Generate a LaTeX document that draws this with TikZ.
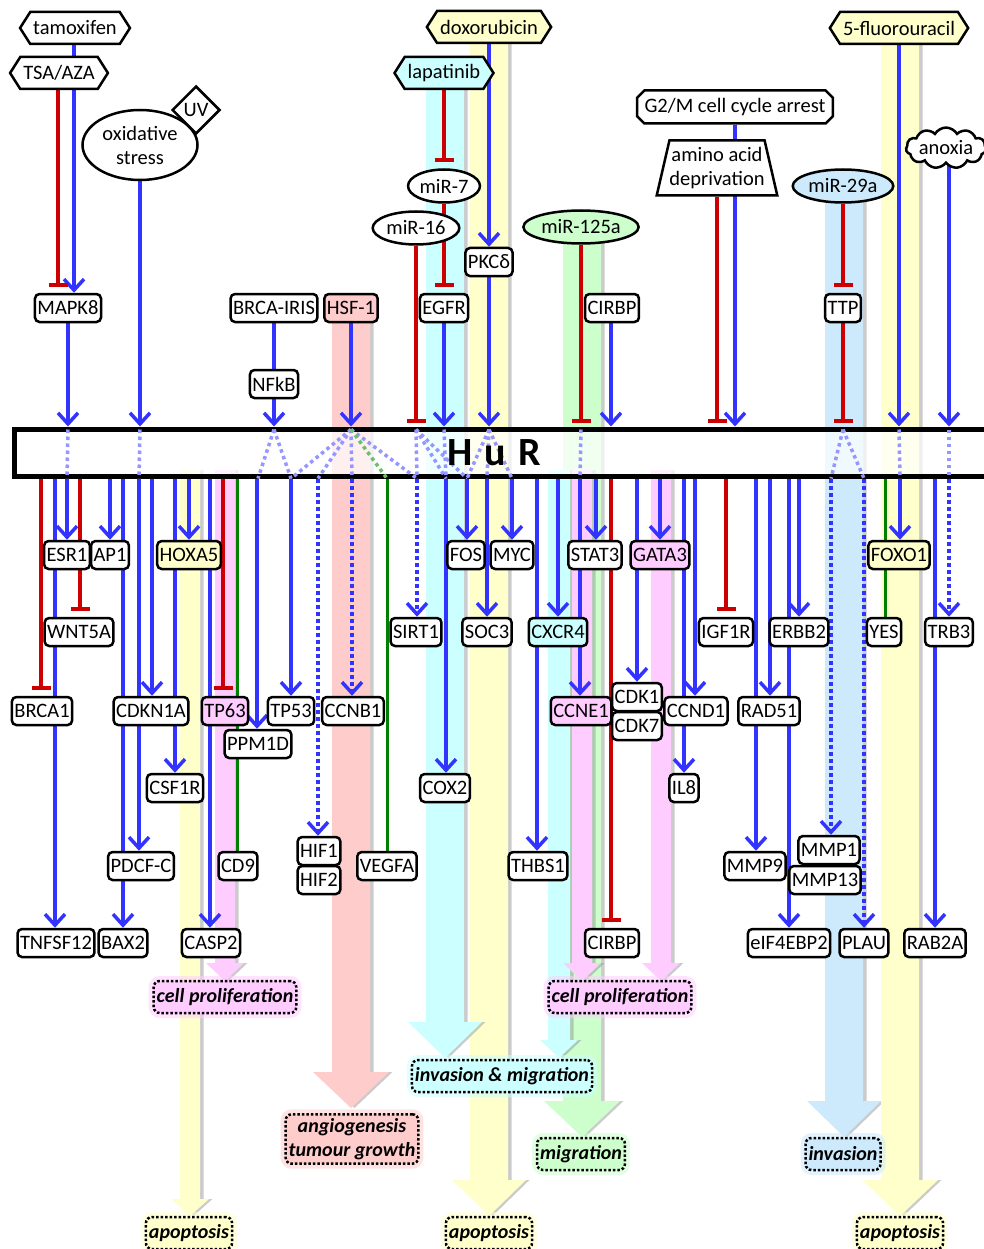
\documentclass[tikz,border=0pt]{standalone}
\usepackage{fontspec}
\setmainfont{Carlito}
\usetikzlibrary{arrows.meta,shapes.geometric,shapes.symbols,shapes.misc}
\definecolor{cblue}{RGB}{51,51,255}
\definecolor{cred}{RGB}{204,0,0}
\definecolor{cgreen}{RGB}{0,128,0}
\definecolor{dotblue}{RGB}{150,150,255}
\definecolor{dotgreen}{RGB}{110,190,110}
\definecolor{fyellow}{RGB}{255,255,204}
\definecolor{fcyan}{RGB}{204,255,255}
\definecolor{fsalmon}{RGB}{255,204,204}
\definecolor{fgreen}{RGB}{204,255,204}
\definecolor{fsky}{RGB}{204,234,252}
\definecolor{fpink}{RGB}{255,204,255}
\pgfdeclarelayer{bands}
\pgfdeclarelayer{bar}
\pgfdeclarelayer{edges}
\pgfsetlayers{bands,bar,edges,main}
\newcommand{\hband}[7]{%
  \pgfmathsetmacro{\bcx}{(#1+#2)/2}%
  \pgfmathsetmacro{\bhl}{\bcx-#6}%
  \pgfmathsetmacro{\bhr}{\bcx+#6}%
  \fill[black!45, opacity=0.45] (#1+3.5,#3) -- (#1+3.5,#4) -- (\bhl+3.5,#4) -- (\bcx+3.5,#5) -- (\bhr+3.5,#4) -- (#2+3.5,#4) -- (#2+3.5,#3) -- cycle;
  \fill[#7] (#1,#3) -- (#1,#4) -- (\bhl,#4) -- (\bcx,#5) -- (\bhr,#4) -- (#2,#4) -- (#2,#3) -- cycle;
}
\tikzset{
  base/.style={font=\fontsize{20.5}{24}\selectfont, line width=2.5pt, draw=black, fill=white},
  gene/.style={base, rectangle, rounded corners=4.5pt, inner xsep=2.5pt, inner ysep=0pt, minimum height=28pt},
  drug/.style={base, signal, signal to=east and west, signal pointer angle=115, inner xsep=3pt, inner ysep=0pt, minimum height=32pt},
  mir/.style={base, ellipse, inner xsep=1pt, inner ysep=0pt, minimum height=33pt},
  act/.style={draw=cblue, line width=3.5pt, -{Straight Barb[length=11pt,width=20pt]}},
  plainact/.style={draw=cblue, line width=3.5pt},
  inh/.style={draw=cred, line width=3.5pt, -{Bar[width=19pt,line width=4pt]}, shorten >=6pt},
  inhh/.style={inh, shorten >=4pt},
  dact/.style={act, dash pattern=on 4pt off 3pt},
  gline/.style={draw=cgreen, line width=3pt},
  hurdot/.style={draw=dotblue, line width=3.5pt, dash pattern=on 3.5pt off 3.5pt},
  hurdotg/.style={draw=dotgreen, line width=3.5pt, dash pattern=on 3.5pt off 3.5pt},
  outc/.style={font=\fontsize{20}{24}\selectfont\bfseries\itshape, rounded corners=6pt, line width=2.5pt, draw=black, dash pattern=on 2.5pt off 2pt, inner xsep=3pt, inner ysep=2pt, minimum height=32pt, fill=#1, preaction={draw=#1, line width=10pt, opacity=0.55, solid}},
}
\begin{document}
\begin{tikzpicture}[x=1pt,y=-1pt]
\useasboundingbox (0,0) rectangle (983,1249);
% ---------- broad pathway bands ----------
\begin{pgfonlayer}{bands}
\hband{470}{508}{30}{1180}{1216}{37}{fyellow}
\hband{426}{464}{75}{1022}{1058}{37}{fcyan}
\hband{332}{370}{310}{1072}{1108}{38}{fsalmon}
\hband{563}{601}{230}{1101}{1137}{38}{fgreen}
\hband{825}{863}{190}{1101}{1137}{37}{fsky}
\hband{881}{919}{30}{1180}{1216}{38}{fyellow}
\hband{180}{200}{470}{1199}{1216}{19}{fyellow}
\hband{215}{235}{470}{963}{981}{19}{fpink}
\hband{548}{570}{470}{1040}{1058}{19}{fcyan}
\hband{572}{592}{470}{963}{981}{19}{fpink}
\hband{651}{671}{470}{963}{981}{19}{fpink}
\end{pgfonlayer}
% ---------- HuR bar ----------
\begin{pgfonlayer}{bar}
\node[draw, line width=5pt, fill=white, fill opacity=0.72, minimum width=995pt, minimum height=47pt, inner sep=0pt] (hur) at (511.5,452.5) {};
\end{pgfonlayer}
% ---------- nodes ----------
\path
  node[gene] (mapk) at (68,308) {MAPK8}
  node[gene] (brca) at (274,308) {BRCA-IRIS}
  node[gene, fill=fsalmon] (hsf) at (351,308) {HSF-1}
  node[gene] (egfr) at (444,308) {EGFR}
  node[gene] (pkc) at (489,262) {PKCδ}
  node[gene] (cirbp) at (612,308) {CIRBP}
  node[gene] (ttp) at (843,308) {TTP}
  node[gene] (nfkb) at (274,384) {NFkB};
\path
  node[gene] (esr1) at (67,555) {ESR1}
  node[gene] (ap1) at (110,555) {AP1}
  node[gene, fill=fyellow] (hoxa5) at (189,555) {HOXA5}
  node[gene] (fos) at (466,555) {FOS}
  node[gene] (myc) at (512,555) {MYC}
  node[gene] (stat3) at (595,555) {STAT3}
  node[gene, fill=fpink] (gata3) at (660,555) {GATA3}
  node[gene, fill=fyellow] (foxo1) at (899,555) {FOXO1}
  node[gene] (wnt5a) at (79,632) {WNT5A}
  node[gene] (sirt1) at (416,632) {SIRT1}
  node[gene] (soc3) at (487,632) {SOC3}
  node[gene, fill=fcyan] (cxcr4) at (558,632) {CXCR4}
  node[gene] (igf1r) at (726,632) {IGF1R}
  node[gene] (erbb2) at (799,632) {ERBB2}
  node[gene] (yes) at (884,632) {YES}
  node[gene] (trb3) at (949,632) {TRB3}
  node[gene] (brca1) at (42,711) {BRCA1}
  node[gene] (cdkn1a) at (151,711) {CDKN1A}
  node[gene, fill=fpink] (tp63) at (225,711) {TP63}
  node[gene] (tp53) at (291,711) {TP53}
  node[gene] (ccnb1) at (353,711) {CCNB1}
  node[gene, fill=fpink] (ccne1) at (581,711) {CCNE1}
  node[gene] (cdk1) at (637,697) {CDK1}
  node[gene] (cdk7) at (637,726) {CDK7}
  node[gene] (ccnd1) at (696,711) {CCND1}
  node[gene] (rad51) at (769,711) {RAD51}
  node[gene] (ppm1d) at (258,744) {PPM1D}
  node[gene] (csf1r) at (175,788) {CSF1R}
  node[gene] (cox2) at (445,788) {COX2}
  node[gene] (il8) at (684,788) {IL8}
  node[gene] (pdcfc) at (141,866) {PDCF-C}
  node[gene] (cd9) at (238,866) {CD9}
  node[gene] (hif1) at (319,851) {HIF1}
  node[gene] (hif2) at (319,880) {HIF2}
  node[gene] (vegfa) at (387,866) {VEGFA}
  node[gene] (thbs1) at (538,866) {THBS1}
  node[gene] (mmp9) at (755,866) {MMP9}
  node[gene] (mmp1) at (829,850) {MMP1}
  node[gene] (mmp13) at (825,880) {MMP13}
  node[gene] (tnf) at (56,943) {TNFSF12}
  node[gene] (bax2) at (123,943) {BAX2}
  node[gene] (casp2) at (211,943) {CASP2}
  node[gene] (cirbpb) at (612,943) {CIRBP}
  node[gene] (eif) at (789,943) {eIF4EBP2}
  node[gene] (plau) at (864,943) {PLAU}
  node[gene] (rab2a) at (935,943) {RAB2A};
\path
  node[drug] (tam) at (75,28) {tamoxifen}
  node[drug] (tsa) at (59,73) {TSA/AZA}
  node[base, ellipse, minimum width=115pt, minimum height=70pt, inner sep=0pt, align=center] (ox) at (140,145) {oxidative\\stress}
  node[base, diamond, minimum width=48pt, minimum height=48pt, inner sep=0pt] (uv) at (196,110) {UV}
  node[drug, fill=fyellow] (dox) at (489,27) {doxorubicin}
  node[drug, fill=fcyan] (lap) at (444,73) {lapatinib}
  node[drug, fill=fyellow] (fu) at (899,28) {5-fluorouracil}
  node[base, chamfered rectangle, chamfered rectangle xsep=4pt, inner ysep=0pt, minimum height=33pt] (g2m) at (735,107) {G2/M cell cycle arrest}
  node[base, trapezium, trapezium left angle=73, trapezium right angle=73, trapezium stretches=true, minimum width=118pt, minimum height=55pt, inner sep=0pt, align=center] (aad) at (717,168) {amino acid\\deprivation}
  node[base, cloud, cloud puffs=11, cloud puff arc=120, aspect=2.6, minimum width=80pt, minimum height=32pt, inner sep=0pt] (anox) at (946,148) {anoxia}
  node[mir, minimum width=71pt] (mir7) at (444,186) {miR-7}
  node[mir, minimum width=85pt] (mir16) at (416,228) {miR-16}
  node[mir, minimum width=114pt, fill=fgreen] (mir125) at (581,227) {miR-125a}
  node[mir, minimum width=98pt, fill=fsky] (mir29) at (843,186) {miR-29a};
% ---------- connectors ----------
\begin{pgfonlayer}{edges}
% dotted links inside the bar
\draw[hurdot] ([yshift=-3pt]hur.north -| 68,0) -- (hur.south -| 67,0);
\draw[hurdot] ([yshift=-3pt]hur.north -| 140,0) -- (hur.south -| 139,0);
\draw[hurdot] ([yshift=-3pt]hur.north -| 274,0) -- (hur.south -| 258,0);
\draw[hurdot] ([yshift=-3pt]hur.north -| 274,0) -- (hur.south -| 291,0);
\draw[hurdot] ([yshift=-3pt]hur.north -| 351,0) -- (hur.south -| 291,0);
\draw[hurdot] ([yshift=-3pt]hur.north -| 351,0) -- (hur.south -| 318,0);
\draw[hurdot] ([yshift=-3pt]hur.north -| 351,0) -- (hur.south -| 352,0);
\draw[hurdot] ([yshift=-3pt]hur.north -| 351,0) -- (hur.south -| 417,0);
\draw[hurdotg] ([yshift=-3pt]hur.north -| 351,0) -- (hur.south -| 387,0);
\draw[hurdot] ([yshift=-3pt]hur.north -| 416,0) -- (hur.south -| 417,0);
\draw[hurdot] ([yshift=-3pt]hur.north -| 416,0) -- (hur.south -| 446,0);
\draw[hurdot] ([yshift=-3pt]hur.north -| 416,0) -- (hur.south -| 467,0);
\draw[hurdot] ([yshift=-3pt]hur.north -| 444,0) -- (hur.south -| 446,0);
\draw[hurdot] ([yshift=-3pt]hur.north -| 489,0) -- (hur.south -| 467,0);
\draw[hurdot] ([yshift=-3pt]hur.north -| 489,0) -- (hur.south -| 487,0);
\draw[hurdot] ([yshift=-3pt]hur.north -| 489,0) -- (hur.south -| 512,0);
\draw[hurdot] ([yshift=-3pt]hur.north -| 581,0) -- (hur.south -| 580,0);
\draw[hurdot] ([yshift=-3pt]hur.north -| 843,0) -- (hur.south -| 831,0);
\draw[hurdot] ([yshift=-3pt]hur.north -| 843,0) -- (hur.south -| 864,0);
\draw[hurdot] ([yshift=-3pt]hur.north -| 899,0) -- (hur.south -| 900,0);
\draw[hurdot] ([yshift=-3pt]hur.north -| 949,0) -- (hur.south -| 949,0);
% above the bar
\draw[act] (tam.south -| 74,0) -- (mapk.north -| 74,0);
\draw[inh] (tsa.south -| 58,0) -- (mapk.north -| 58,0);
\draw[act] (ox.south) -- (hur.north -| ox.south);
\draw[act] (mapk.south) -- (hur.north -| mapk.south);
\draw[plainact] (brca.south) -- (nfkb.north);
\draw[act] (nfkb.south) -- (hur.north -| nfkb.south);
\draw[act] (hsf.south) -- (hur.north -| hsf.south);
\draw[inhh] (mir16.south) -- (hur.north -| mir16.south);
\draw[inh] (lap.south) -- (mir7.north);
\draw[inh] (mir7.south) -- (egfr.north);
\draw[act] (egfr.south) -- (hur.north -| egfr.south);
\draw[act] (dox.south) -- (pkc.north);
\draw[act] (pkc.south) -- (hur.north -| pkc.south);
\draw[inhh] (mir125.south) -- (hur.north -| mir125.south);
\draw[act] (cirbp.south -| 611,0) -- (hur.north -| 611,0);
\draw[act] (g2m.south) -- (hur.north -| g2m.south);
\draw[inhh] (aad.south -| 717,0) -- (hur.north -| 717,0);
\draw[inh] (mir29.south) -- (ttp.north);
\draw[inhh] (ttp.south) -- (hur.north -| ttp.south);
\draw[act] (fu.south) -- (hur.north -| fu.south);
\draw[act] (anox.south -| 949,0) -- (hur.north -| 949,0);
% below the bar
\draw[inh] (hur.south -| 41,0) -- (brca1.north -| 41,0);
\draw[act] (hur.south -| 55,0) -- (tnf.north -| 55,0);
\draw[act] (hur.south -| 67,0) -- (esr1.north -| 67,0);
\draw[inh] (hur.south -| 80,0) -- (wnt5a.north -| 80,0);
\draw[act] (hur.south -| 110,0) -- (ap1.north -| 110,0);
\draw[act] (hur.south -| 123,0) -- (bax2.north -| 123,0);
\draw[act] (hur.south -| 139,0) -- (pdcfc.north -| 139,0);
\draw[act] (hur.south -| 152,0) -- (cdkn1a.north -| 152,0);
\draw[act] (hur.south -| 175,0) -- (csf1r.north -| 175,0);
\draw[act] (hur.south -| 189,0) -- (hoxa5.north -| 189,0);
\draw[act] (hur.south -| 210,0) -- (casp2.north -| 210,0);
\draw[inh] (hur.south -| 223,0) -- (tp63.north -| 223,0);
\draw[gline] (hur.south -| 237,0) -- (cd9.north -| 237,0);
\draw[act] (hur.south -| 257,0) -- (ppm1d.north -| 257,0);
\draw[act] (hur.south -| 291,0) -- (tp53.north -| 291,0);
\draw[dact] (hur.south -| 318,0) -- (hif1.north -| 318,0);
\draw[dact] (hur.south -| 352,0) -- (ccnb1.north -| 352,0);
\draw[gline] (hur.south -| 387,0) -- (vegfa.north -| 387,0);
\draw[dact] (hur.south -| 417,0) -- (sirt1.north -| 417,0);
\draw[act] (hur.south -| 446,0) -- (cox2.north -| 446,0);
\draw[act] (hur.south -| 467,0) -- (fos.north -| 467,0);
\draw[act] (hur.south -| 487,0) -- (soc3.north -| 487,0);
\draw[act] (hur.south -| 512,0) -- (myc.north -| 512,0);
\draw[act] (hur.south -| 537,0) -- (thbs1.north -| 537,0);
\draw[act] (hur.south -| 558,0) -- (cxcr4.north -| 558,0);
\draw[act] (hur.south -| 580,0) -- (ccne1.north -| 580,0);
\draw[act] (hur.south -| 596,0) -- (stat3.north -| 596,0);
\draw[inh] (hur.south -| 611,0) -- (cirbpb.north -| 611,0);
\draw[act] (hur.south -| 637,0) -- (cdk1.north -| 637,0);
\draw[act] (hur.south -| 660,0) -- (gata3.north -| 660,0);
\draw[act] (hur.south -| 684,0) -- (il8.north -| 684,0);
\draw[act] (hur.south -| 695,0) -- (ccnd1.north -| 695,0);
\draw[inh] (hur.south -| 726,0) -- (igf1r.north -| 726,0);
\draw[act] (hur.south -| 756,0) -- (mmp9.north -| 756,0);
\draw[act] (hur.south -| 770,0) -- (rad51.north -| 770,0);
\draw[act] (hur.south -| 789,0) -- (eif.north -| 789,0);
\draw[act] (hur.south -| 799,0) -- (erbb2.north -| 799,0);
\draw[dact] (hur.south -| 831,0) -- (mmp1.north -| 831,0);
\draw[dact] (hur.south -| 864,0) -- (plau.north -| 864,0);
\draw[gline] (hur.south -| 885,0) -- (yes.north -| 885,0);
\draw[act] (hur.south -| 900,0) -- (foxo1.north -| 900,0);
\draw[act] (hur.south -| 935,0) -- (rab2a.north -| 935,0);
\draw[dact] (hur.south -| 949,0) -- (trb3.north -| 949,0);
\end{pgfonlayer}
% ---------- outcomes ----------
\node[outc=fpink] (cp1) at (225,997) {cell proliferation};
\node[outc=fpink] (cp2) at (620,997) {cell proliferation};
\node[outc=fcyan] (invmig) at (502,1076) {invasion \& migration};
\node[outc=fsalmon, align=center, inner ysep=4pt] (angio) at (352,1139) {angiogenesis\\tumour growth};
\node[outc=fgreen] (migr) at (581,1154) {migration};
\node[outc=fsky] (inv) at (843,1154) {invasion};
\node[outc=fyellow] (apo1) at (189,1233) {apoptosis};
\node[outc=fyellow] (apo2) at (489,1233) {apoptosis};
\node[outc=fyellow] (apo3) at (900,1233) {apoptosis};
% ---------- HuR label ----------
\node[font=\fontsize{40}{40}\selectfont\bfseries, inner sep=0pt] (hurtxt) at (494,453) {H\hspace{0.3em}u\hspace{0.3em}R};
\end{tikzpicture}
\end{document}
